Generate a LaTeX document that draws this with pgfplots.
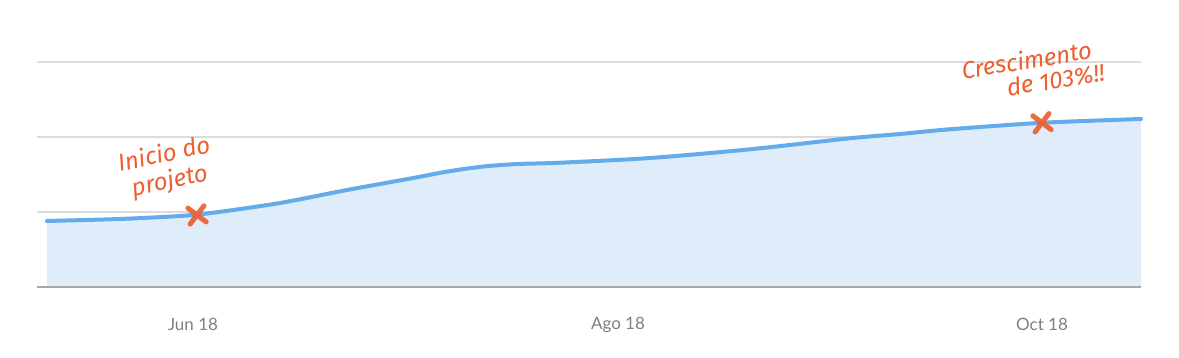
\documentclass[border=0pt]{standalone}
\usepackage{pgfplots}
\pgfplotsset{compat=1.18}
\usepackage{fontspec}
\setmainfont{Lato}
\newfontfamily\hand{Fira Sans}
\definecolor{lineblue}{HTML}{63ABEB}
\definecolor{fillblue}{HTML}{DFEDFA}
\definecolor{gridgray}{HTML}{DCDCDC}
\definecolor{basegray}{HTML}{A8A8A8}
\definecolor{annot}{HTML}{EE5E30}
\definecolor{ticktext}{HTML}{808080}
\pgfplotstableread{
x y
47 0.88
120 0.907
180 0.947
213 0.99
280 1.12
347 1.293
413 1.453
440 1.522
463 1.572
490 1.615
520 1.641
560 1.657
650 1.72
750 1.836
850 1.983
900 2.04
950 2.103
1043 2.19
1141 2.24
}\curvedata
\begin{document}
\begin{tikzpicture}
\begin{axis}[
  at={(37pt,71pt)}, anchor=south west,
  scale only axis, width=1104pt, height=287pt,
  xmin=37, xmax=1141, ymin=0, ymax=3.8267,
  axis lines=none,
  clip=false,
  xtick=\empty, ytick=\empty,
]
% grid lines
\addplot[gridgray, line width=1.8pt] coordinates {(37,1) (1141,1)};
\addplot[gridgray, line width=1.8pt] coordinates {(37,2) (1141,2)};
\addplot[gridgray, line width=1.8pt] coordinates {(37,3) (1141,3)};
% area
\addplot[fill=fillblue, draw=none, smooth, tension=0.5] table {\curvedata} \closedcycle;
\addplot[basegray, line width=1.5pt] coordinates {(37,0) (1141,0)};
\addplot[lineblue, line width=4pt, smooth, tension=0.5, line cap=round] table {\curvedata};
% markers
\addplot[only marks, mark=x, mark size=11.5pt, mark options={annot, line width=5pt, line cap=round, rotate=8, opacity=0.92}] coordinates {(197,0.96) (1042,2.19)};
% tick labels
\node[ticktext, font=\fontsize{17}{20}\selectfont] at (axis cs:193,-0.5) {Jun 18};
\node[ticktext, font=\fontsize{17}{20}\selectfont] at (axis cs:618,-0.5) {Ago 18};
\node[ticktext, font=\fontsize{17}{20}\selectfont] at (axis cs:1042,-0.5) {Oct 18};
% annotations
\node[annot, rotate=12, align=center, inner sep=0pt, font=\hand\itshape\fontsize{24}{27}\selectfont] at (axis cs:167,1.58) {Inicio do\\projeto};
\node[annot, rotate=9, align=left, inner sep=0pt, font=\hand\itshape\fontsize{24}{24}\selectfont] at (axis cs:1033,2.88) {Crescimento\\\hspace*{42pt}de 103\%!!};
\end{axis}
\pgfresetboundingbox
\path[use as bounding box] (0,0) rectangle (1179pt,358pt);
\end{tikzpicture}
\end{document}
